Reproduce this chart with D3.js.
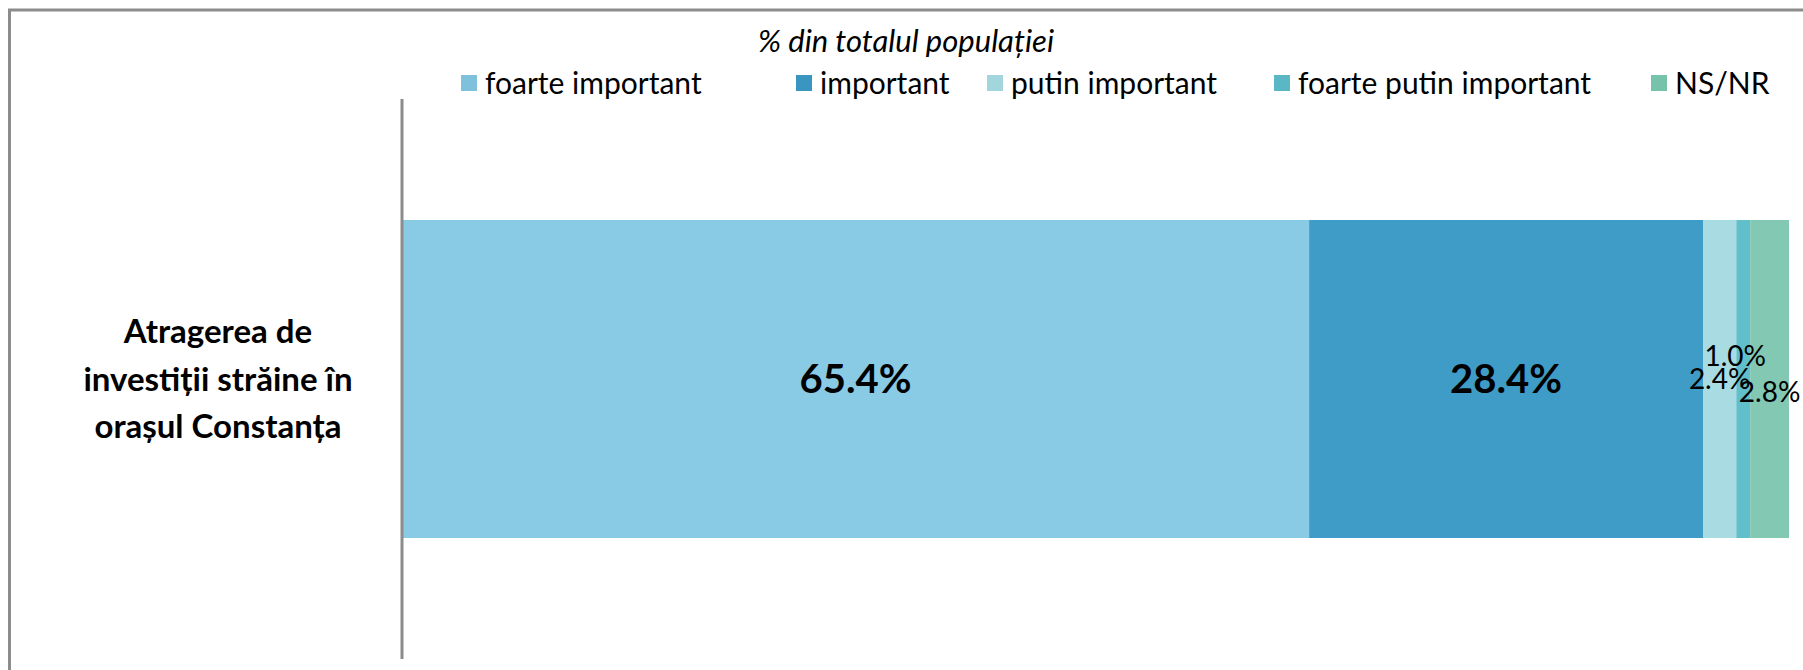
<!DOCTYPE html>
<meta charset="utf-8">
<style>
body { margin: 0; background: #fff; }
svg { display: block; font-family: Lato, "Open Sans", sans-serif; }
.frame { fill: none; stroke: #8c8c8c; stroke-width: 3px; }
.axis path { stroke: #8c8c8c; stroke-width: 3px; }
.axis text { font-family: Lato, "Open Sans", sans-serif; font-weight: bold; font-size: 33px; fill: #000; }
.lbl { fill: #000; }
</style>
<body>
<svg width="1803" height="670"></svg>
</body>
<script src="https://cdn.jsdelivr.net/npm/d3@7"></script>
<script>

// data
var categories = ["Atragerea de investiții străine în orașul Constanța"];
var categoryLines = [["Atragerea de", "investiții străine în", "orașul Constanța"]];
var seriesNames = ["foarte important", "important", "putin important", "foarte putin important", "NS/NR"];
var seriesValues = [
  [65.4],   // foarte important
  [28.4],   // important
  [2.4],    // putin important
  [1.0],    // foarte putin important
  [2.8]     // NS/NR
];
var colors = ["#89cae4", "#3e9cc6", "#a8dce2", "#60bfca", "#82c8b2"];
var legendColors = ["#7fc0dc", "#3a96c0", "#a3d6dc", "#59b8c3", "#76c2ab"];
var chartTitle = "% din totalul populației";

var svg = d3.select("svg");

// outer frame (only top + left visible)
svg.append("path")
  .attr("class", "frame")
  .attr("d", "M9.5,670V10H1803");

var x = d3.scaleLinear().domain([0, 100]).range([402, 1789]);
var y = d3.scaleBand().domain(categories).range([99, 659]).padding(0.2756);

// stack
var rows = categories.map(function(c, i) {
  var r = { cat: c };
  seriesNames.forEach(function(s, j) { r[s] = seriesValues[j][i]; });
  return r;
});
var stacked = d3.stack().keys(seriesNames)(rows);

var g = svg.append("g");
stacked.forEach(function(layer, j) {
  g.selectAll(null)
    .data(layer)
    .enter().append("rect")
      .attr("x", function(d) { return x(d[0]); })
      .attr("y", function(d) { return y(d.data.cat); })
      .attr("width", function(d) { return x(d[1]) - x(d[0]); })
      .attr("height", y.bandwidth())
      .attr("fill", colors[j]);
});

// value labels; small ones nudged like excel does
var nudge = [[0, 0], [0, 0], [0, 0], [-8, -23], [0, 13]];
stacked.forEach(function(layer, j) {
  var big = layer[0].data[seriesNames[j]] > 10;
  g.selectAll(null)
    .data(layer)
    .enter().append("text")
      .attr("class", "lbl")
      .attr("x", function(d) { return (x(d[0]) + x(d[1])) / 2 + nudge[j][0]; })
      .attr("y", function(d) { return y(d.data.cat) + y.bandwidth() / 2 + nudge[j][1]; })
      .attr("dy", "0.36em")
      .attr("text-anchor", "middle")
      .style("font-size", big ? "40px" : "28px")
      .style("font-weight", big ? "bold" : "normal")
      .text(function(d) { return d.data[seriesNames[j]].toFixed(1) + "%"; });
});

// category axis
var axis = svg.append("g")
  .attr("class", "axis")
  .attr("transform", "translate(402,0)")
  .call(d3.axisLeft(y).tickSize(0).tickPadding(0));
axis.select(".domain").attr("d", "M0," + 99 + "V" + 659);
axis.selectAll(".tick text").each(function(d, i) {
  var t = d3.select(this).text(null)
    .attr("text-anchor", "middle")
    .attr("x", 218 - 402)
    .attr("dy", null);
  var lines = categoryLines[i];
  lines.forEach(function(l, k) {
    t.append("tspan")
      .attr("x", 218 - 402)
      .attr("dy", k === 0 ? (-(lines.length - 1) / 2 * 1.45 + 0.35) + "em" : "1.45em")
      .text(l);
  });
});

// title
svg.append("text")
  .attr("x", 906)
  .attr("y", 41)
  .attr("dy", "0.35em")
  .attr("text-anchor", "middle")
  .style("font-style", "italic")
  .style("font-size", "31px")
  .text(chartTitle);

// legend
var legendX = [461, 796, 987, 1274, 1651];
var legend = svg.append("g").selectAll("g")
  .data(seriesNames)
  .enter().append("g")
    .attr("transform", function(d, i) { return "translate(" + legendX[i] + ",83)"; });
legend.append("rect")
  .attr("x", 0).attr("y", -8)
  .attr("width", 16).attr("height", 16)
  .attr("fill", function(d, i) { return legendColors[i]; });
legend.append("text")
  .attr("x", 24)
  .attr("dy", "0.35em")
  .style("font-size", "30px")
  .text(function(d) { return d; });

</script>
